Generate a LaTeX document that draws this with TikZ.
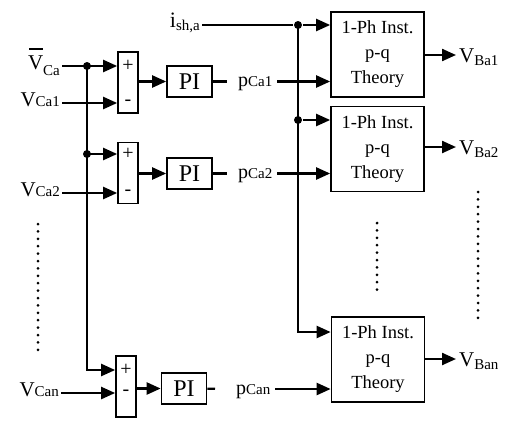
\documentclass[tikz,border=0pt]{standalone}
\usepackage{fontspec}
\setmainfont{Liberation Serif}
\usepackage{tikz}
\usetikzlibrary{positioning,arrows.meta}
\newcommand{\lowsub}[2][2pt]{\raisebox{-#1}{\fontsize{15}{15}\selectfont #2}}
\newcommand{\barV}{\rlap{\hspace{1pt}\raisebox{19pt}{\rule{14pt}{1.8pt}}}V}

\begin{document}
\begin{tikzpicture}[x=1pt, y=-1pt, line width=2.3pt, >={Triangle[length=14pt,width=12pt]},
  sumbox/.style={draw,line width=1.7pt,minimum width=20pt,minimum height=61pt,inner sep=0pt},
  pibox/.style={draw,line width=1.7pt,minimum width=45pt,minimum height=31pt,inner sep=0pt,font=\fontsize{24}{24}\selectfont},
  pqbox/.style={draw,line width=1.7pt,minimum width=93pt,minimum height=85pt,inner sep=0pt,align=center,font=\fontsize{18.5}{25}\selectfont},
  signtxt/.style={inner sep=0pt,font=\fontsize{20}{20}\selectfont},
  vlab/.style={inner xsep=1pt,inner ysep=0pt,text height=10pt,text depth=4pt,font=\fontsize{21}{21}\selectfont},
  olab/.style={inner xsep=2pt,inner ysep=0pt,text height=14pt,text depth=0pt,font=\fontsize{21}{21}\selectfont},
  plab/.style={inner xsep=4pt,inner ysep=0pt,text height=10pt,text depth=0pt,font=\fontsize{20}{20}\selectfont},
  ilab/.style={inner xsep=1pt,inner ysep=0pt,text height=8pt,text depth=4pt,font=\fontsize{22}{22}\selectfont},
  junc/.style={circle,fill,inner sep=0pt,minimum size=8pt},
  dotcol/.style={line width=3pt,line cap=round,dash pattern=on 0pt off 7.4pt}]
\useasboundingbox (0,0) rectangle (513,421);

% left: error and PI stages
\node[sumbox] (s1) at (128,82.5) {};
\node[sumbox] (s2) at (128,173) {};
\node[sumbox] (s3) at (126,386.5) {};
\node[pibox] (pi1) at (189.5,81.5) {PI};
\node[pibox] (pi2) at (189.5,173.5) {PI};
\node[pibox] (pi3) at (184,388.5) {PI};
\node[vlab,anchor=east] (vca) at (62,66) {\barV\lowsub[6pt]{Ca}};
\node[vlab,anchor=east] (vc1) at (62,103) {V\lowsub[0pt]{Ca1}};
\node[vlab,anchor=east] (vc2) at (62,193) {V\lowsub[0pt]{Ca2}};
\node[vlab,anchor=east] (vcn) at (61,393) {V\lowsub[0pt]{Can}};
\node[junc] (d1) at (87,66) {};
\node[junc] (d2) at (87,154) {};
\coordinate (c1) at (87,370);
\node[signtxt] (pl1) at (s1 |- vca) {+};
\node[signtxt] (mi1) at (s1 |- vc1) {-};
\node[signtxt] (pl2) at (s2 |- d2) {+};
\node[signtxt] (mi2) at (s2 |- vc2) {-};
\node[signtxt] (pl3) at (s3 |- c1) {+};
\node[signtxt] (mi3) at (s3 |- vcn) {-};
\draw[->] (vca) -- (s1.west |- vca);
\draw[->] (vc1) -- (s1.west |- vc1);
\draw[->] (vc2) -- (s2.west |- vc2);
\draw[->] (vcn) -- (s3.west |- vcn);
\draw[->] (d1.center) -- (c1) -- (s3.west |- c1);
\draw[->] (d2.center) -- (s2.west |- d2);
\draw[->] (s1.east |- pi1) -- (pi1);
\draw[->] (s2.east |- pi2) -- (pi2);
\draw[->] (s3.east |- pi3) -- (pi3);

% right: p-q blocks
\node[pqbox] (t1) at (377.5,54.5) {1-Ph Inst.\\p-q\\Theory};
\node[pqbox] (t2) at (377.5,149) {1-Ph Inst.\\p-q\\Theory};
\node[pqbox] (t3) at (378,359.5) {1-Ph Inst.\\p-q\\Theory};
\node[plab,anchor=west] (pc1) at (233,81.5) {p\lowsub[0pt]{Ca1}};
\node[plab,anchor=west] (pc2) at (233,173.5) {p\lowsub[0pt]{Ca2}};
\node[plab,anchor=west] (pcn) at (231,389) {p\lowsub[0pt]{Can}};
\node[ilab,anchor=east] (ish) at (202,25) {i\lowsub[3pt]{sh,a}};
\node[junc] (d3) at (298,25) {};
\node[junc] (d4) at (298,120) {};
\coordinate (c2) at (298,332);
\node[olab,anchor=west] (vb1) at (456,55) {V\lowsub[3pt]{Ba1}};
\node[olab,anchor=west] (vb2) at (456,147) {V\lowsub[3pt]{Ba2}};
\node[olab,anchor=west] (vbn) at (456,359) {V\lowsub[3pt]{Ban}};
\draw[shorten >=6pt] (pi1) -- (pc1);
\draw[shorten >=6pt] (pi2) -- (pc2);
\draw[shorten >=16pt] (pi3) -- (pcn);
\draw[->] (pc1) -- (t1.west |- pc1);
\draw[->] (pc2) -- (t2.west |- pc2);
\draw[->] (pcn) -- (t3.west |- pcn);
\draw (ish) -- (d3);
\draw[->] (d3) -- (t1.west |- d3);
\draw[->] (d3.center) -- (c2) -- (t3.west |- c2);
\draw[->] (d4) -- (t2.west |- d4);
\draw[->] (t1.east |- vb1) -- (vb1);
\draw[->] (t2.east |- vb2) -- (vb2);
\draw[->] (t3.east |- vbn) -- (vbn);

% dotted continuation marks
\draw[dotcol] (38,224) -- (38,350);
\draw[dotcol] (377,223) -- (377,292);
\draw[dotcol] (478,192) -- (478,321);
\end{tikzpicture}
\end{document}
